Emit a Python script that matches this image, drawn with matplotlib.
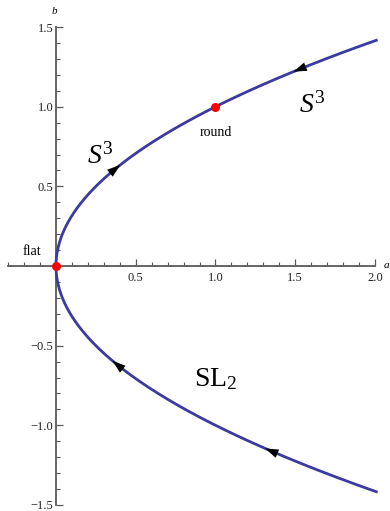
import matplotlib.pyplot as plt
import numpy as np
from matplotlib.ticker import FixedLocator, FixedFormatter

plt.rcParams['font.family'] = ['Liberation Serif', 'DejaVu Serif']
plt.rcParams['mathtext.fontset'] = 'custom'
plt.rcParams['mathtext.it'] = 'Liberation Serif:italic'
plt.rcParams['mathtext.rm'] = 'Liberation Serif'

# curve a = b^2
b_max = 1.42
# arrow positions along the curve (b value) and direction of travel in b
arrow_b = [0.62, 1.235, -0.61, -1.16]
arrow_dir = [1, -1, 1, 1]
# special points
point_a = [0.0, 1.0]
point_b = [0.0, 1.0]
point_names = ['flat', 'round']

x_ticks = [0.5, 1.0, 1.5, 2.0]
y_ticks = [-1.5, -1.0, -0.5, 0.5, 1.0, 1.5]
x_minor = [round(v, 1) for v in np.arange(-0.3, 2.01, 0.1)]
y_minor = [round(v, 1) for v in np.arange(-1.5, 1.51, 0.1)]

axis_col = '#595959'
curve_col = '#3b3a9e'

fig = plt.figure(figsize=(3.9, 5.11), dpi=100)
ax = fig.add_axes([0, 0, 1, 1])
ax.set_xlim(-0.351, 2.094)
ax.set_ylim(-1.538, 1.670)
ax.patch.set_visible(False)

b = np.linspace(-b_max, b_max, 600)
ax.plot(b ** 2, b, color=curve_col, lw=2.0, zorder=3, solid_capstyle='butt')

for bb, d in zip(arrow_b, arrow_dir):
    db = 0.03 * d
    tip = bb + 0.5 * db
    tail = bb - 0.5 * db
    ax.annotate('', xy=(tip ** 2, tip), xytext=(tail ** 2, tail),
                arrowprops=dict(arrowstyle='-|>,head_length=0.6,head_width=0.2',
                                color='black', lw=0,
                                mutation_scale=16, shrinkA=0, shrinkB=0),
                zorder=4)

ax.scatter(point_a, point_b, s=42, color='#ff0000', zorder=5, linewidths=0)
ax.text(-0.15, 0.09, point_names[0], fontsize=10, ha='center', va='center')
ax.text(1.0, 0.84, point_names[1], fontsize=10, ha='center', va='center')

ax.text(1.61, 1.01, r'$S^3$', fontsize=20, ha='center', va='center')
ax.text(0.28, 0.69, r'$S^3$', fontsize=20, ha='center', va='center')
ax.text(1.0, -0.71, r'$\mathrm{SL}_2$', fontsize=20, ha='center', va='center')

for side in ['top', 'right']:
    ax.spines[side].set_visible(False)
ax.spines['left'].set_position(('data', 0))
ax.spines['bottom'].set_position(('data', 0))
ax.spines['left'].set_bounds(-1.5, 1.5)
ax.spines['bottom'].set_bounds(-0.3, 2.0)
for side in ['left', 'bottom']:
    ax.spines[side].set_color(axis_col)
    ax.spines[side].set_linewidth(1.3)

ax.xaxis.set_major_locator(FixedLocator(x_ticks))
ax.xaxis.set_major_formatter(FixedFormatter([f'{v:.1f}' for v in x_ticks]))
ax.yaxis.set_major_locator(FixedLocator(y_ticks))
ax.yaxis.set_major_formatter(FixedFormatter([f'{v:.1f}'.replace('-', '\u2212') for v in y_ticks]))
ax.xaxis.set_minor_locator(FixedLocator(x_minor))
ax.yaxis.set_minor_locator(FixedLocator(y_minor))
ax.tick_params(which='major', direction='in', length=5, width=0.9, color=axis_col,
               labelsize=9, pad=3)
ax.tick_params(which='minor', direction='in', length=3, width=0.8, color=axis_col)
ax.tick_params(axis='x', which='major', pad=4)
ax.tick_params(axis='y', which='major', pad=2)
for lab in ax.get_xticklabels() + ax.get_yticklabels():
    lab.set_color('#222222')

ax.text(-0.01, 1.60, 'b', fontsize=8, style='italic', ha='center', va='center')
ax.text(2.092, 0.005, 'a', fontsize=8, style='italic', ha='right', va='center')

fig.savefig('out.png', dpi=100)
